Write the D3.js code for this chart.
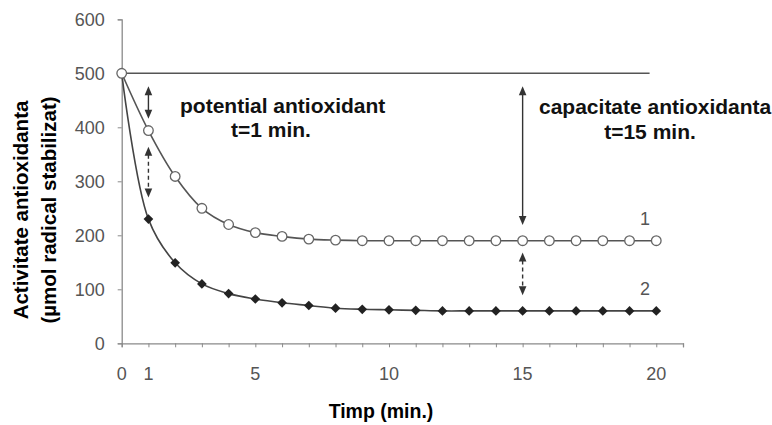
<!DOCTYPE html>
<html>
<head>
<meta charset="utf-8">
<script src="https://cdn.jsdelivr.net/npm/d3@7"></script>
<style>
  body { margin: 0; background: #fff; }
  svg { display: block; font-family: "Liberation Sans", Arial, sans-serif; }
</style>
</head>
<body>
<svg class="chart" width="772" height="425"></svg>
<script>
// data
const times = [0, 1, 2, 3, 4, 5, 6, 7, 8, 9, 10, 11, 12, 13, 14, 15, 16, 17, 18, 19, 20];
const series1 = [500, 394, 309, 250, 220, 205, 198, 193, 191, 190, 190, 190, 190, 190, 190, 190, 190, 190, 190, 190, 190];
const series2 = [500, 230, 149, 110, 92, 82, 75, 70, 65, 63, 62, 61, 60, 60, 60, 60, 60, 60, 60, 60, 60];
const xTickLabels = [0, 1, 5, 10, 15, 20];
const yTicks = [0, 100, 200, 300, 400, 500, 600];
const referenceLevel = 500;

// arrows: [x, yFrom, yTo, dashed]
const arrows = [
  [1, 476, 416, false],
  [1, 364, 270, true],
  [15, 476, 219, false],
  [15, 168, 89, true]
];

const startApp = () => {
  const svg = d3.select('.chart');
  const x = d3.scaleLinear().domain([0, 21]).range([121.7, 683]);
  const y = d3.scaleLinear().domain([0, 600]).range([343.3, 19.3]);

  const axisColor = '#8a8a8a';
  const tickColor = '#555';

  // x axis
  const xAxis = svg.append('g')
    .attr('transform', `translate(0,${y(0)})`)
    .call(d3.axisBottom(x).tickValues(d3.range(0, 22)).tickSize(4).tickFormat(''));
  xAxis.select('.domain').attr('stroke', axisColor).attr('stroke-width', 1.3);
  xAxis.selectAll('.tick line').attr('stroke', axisColor);

  svg.append('g').selectAll('text')
    .data(xTickLabels)
    .enter()
    .append('text')
    .attr('x', d => x(d))
    .attr('y', 380)
    .attr('text-anchor', 'middle')
    .attr('font-size', 18)
    .attr('fill', tickColor)
    .text(d => d);

  // y axis
  const yAxis = svg.append('g')
    .attr('transform', `translate(${x(0)},0)`)
    .call(d3.axisLeft(y).tickValues(yTicks).tickSize(4).tickPadding(13));
  yAxis.select('.domain').attr('stroke', axisColor).attr('stroke-width', 1.3);
  yAxis.selectAll('.tick line').attr('stroke', axisColor);
  yAxis.selectAll('.tick text')
    .attr('font-size', 18)
    .attr('fill', tickColor)
    .attr('font-family', '"Liberation Sans", Arial, sans-serif');

  // axis titles
  svg.append('text')
    .attr('transform', 'translate(28,210) rotate(-90)')
    .attr('text-anchor', 'middle')
    .attr('font-size', 20.5)
    .attr('font-weight', 'bold')
    .text('Activitate antioxidanta');
  svg.append('text')
    .attr('transform', 'translate(56,210) rotate(-90)')
    .attr('text-anchor', 'middle')
    .attr('font-size', 20.5)
    .attr('font-weight', 'bold')
    .text('(µmol radical stabilizat)');
  svg.append('text')
    .attr('x', 381)
    .attr('y', 418)
    .attr('text-anchor', 'middle')
    .attr('font-size', 19.5)
    .attr('font-weight', 'bold')
    .text('Timp (min.)');

  // reference line at 500
  svg.append('line')
    .attr('x1', x(0))
    .attr('x2', x(19.75))
    .attr('y1', y(referenceLevel))
    .attr('y2', y(referenceLevel))
    .attr('stroke', '#555')
    .attr('stroke-width', 1.5);

  const line = d3.line()
    .x(d => x(d[0]))
    .y(d => y(d[1]))
    .curve(d3.curveCatmullRom.alpha(0.5));

  const pts2 = times.map((t, i) => [t, series2[i]]);
  const pts1 = times.map((t, i) => [t, series1[i]]);

  svg.append('path')
    .attr('d', line(pts2))
    .attr('fill', 'none')
    .attr('stroke', '#444')
    .attr('stroke-width', 1.6);
  svg.append('g').selectAll('path')
    .data(pts2)
    .enter()
    .append('path')
    .attr('d', d3.symbol(d3.symbolDiamond2, 60))
    .attr('transform', d => `translate(${x(d[0])},${y(d[1])})`)
    .attr('fill', '#222');

  svg.append('path')
    .attr('d', line(pts1))
    .attr('fill', 'none')
    .attr('stroke', '#555')
    .attr('stroke-width', 1.6);
  svg.append('g').selectAll('circle')
    .data(pts1)
    .enter()
    .append('circle')
    .attr('cx', d => x(d[0]))
    .attr('cy', d => y(d[1]))
    .attr('r', 4.8)
    .attr('fill', '#fff')
    .attr('stroke', '#666')
    .attr('stroke-width', 1.3);

  // arrows
  const arrowG = svg.append('g');
  const head = (px, py, dir) => `M${px},${py} L${px - 3.8},${py - dir * 9} L${px + 3.8},${py - dir * 9} Z`;
  arrows.forEach(([t, a, b, dashed]) => {
    const px = x(t);
    const y1 = y(a);
    const y2 = y(b);
    arrowG.append('line')
      .attr('x1', px).attr('x2', px)
      .attr('y1', y1 + 8).attr('y2', y2 - 8)
      .attr('stroke', '#333')
      .attr('stroke-width', 1.4)
      .attr('stroke-dasharray', dashed ? '4,3' : null);
    arrowG.append('path').attr('d', head(px, y1, -1)).attr('fill', '#333');
    arrowG.append('path').attr('d', head(px, y2, 1)).attr('fill', '#333');
  });

  // annotations
  const note = (tx, ty, str, anchor) => svg.append('text')
    .attr('x', tx)
    .attr('y', ty)
    .attr('text-anchor', anchor)
    .attr('font-size', 21)
    .attr('font-weight', 'bold')
    .attr('fill', '#111')
    .text(str);
  note(180, 113, 'potential antioxidant', 'start');
  note(271, 137, 't=1 min.', 'middle');
  note(539, 114, 'capacitate antioxidanta', 'start');
  note(650, 139, 't=15 min.', 'middle');

  svg.append('text')
    .attr('x', 645).attr('y', 225)
    .attr('text-anchor', 'middle')
    .attr('font-size', 18)
    .attr('fill', tickColor)
    .text('1');
  svg.append('text')
    .attr('x', 645).attr('y', 295)
    .attr('text-anchor', 'middle')
    .attr('font-size', 18)
    .attr('fill', tickColor)
    .text('2');
};

window.onload = startApp;
</script>
</body>
</html>
